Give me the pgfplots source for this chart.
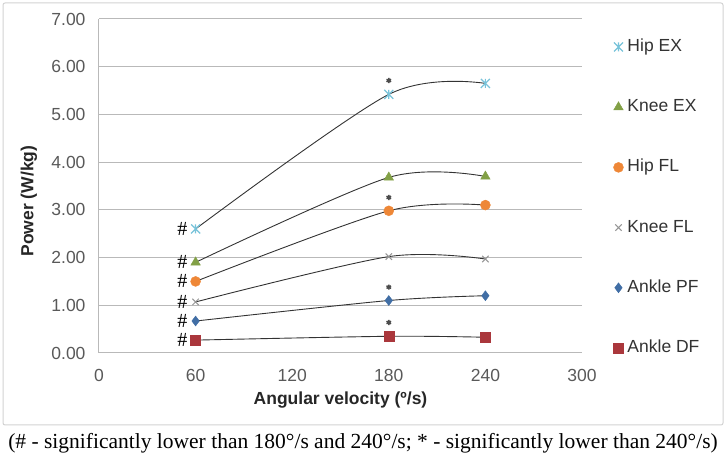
\documentclass[border=0pt]{standalone}
\usepackage{fontspec}
\setmainfont{Liberation Sans}
\newfontfamily\timesfont{Liberation Serif}
\usepackage{pgfplots}
\pgfplotsset{compat=1.18}

\definecolor{hipex}{RGB}{120,195,218}
\definecolor{kneeex}{RGB}{130,160,70}
\definecolor{hipfl}{RGB}{238,135,55}
\definecolor{kneefl}{RGB}{150,150,150}
\definecolor{anklepf}{RGB}{65,110,165}
\definecolor{ankledf}{RGB}{170,55,60}
\definecolor{gridgray}{RGB}{185,185,185}
\definecolor{ticktext}{RGB}{89,89,89}
\definecolor{framegray}{RGB}{210,210,210}

% Excel style star: an x with a vertical bar
\pgfdeclareplotmark{xbar}{%
  \pgfpathmoveto{\pgfqpoint{-\pgfplotmarksize}{-\pgfplotmarksize}}%
  \pgfpathlineto{\pgfqpoint{\pgfplotmarksize}{\pgfplotmarksize}}%
  \pgfpathmoveto{\pgfqpoint{-\pgfplotmarksize}{\pgfplotmarksize}}%
  \pgfpathlineto{\pgfqpoint{\pgfplotmarksize}{-\pgfplotmarksize}}%
  \pgfpathmoveto{\pgfqpoint{0pt}{-\pgfplotmarksize}}%
  \pgfpathlineto{\pgfqpoint{0pt}{\pgfplotmarksize}}%
  \pgfusepathqstroke}

\newcommand{\chartfont}{\fontsize{17.5}{20}\selectfont}
\newcommand{\hashfont}{\timesfont\fontsize{20}{20}\selectfont}

\begin{document}
\begin{tikzpicture}[x=1pt,y=1pt]
\useasboundingbox (0,0) rectangle (726,457);
\draw[framegray, line width=1pt, rounded corners=2pt] (3,32) rectangle (723,454);
\begin{axis}[
    at={(99pt,104pt)}, anchor=south west,
    width=483pt, height=334pt, scale only axis,
    xmin=0, xmax=300, ymin=0, ymax=7,
    xtick={0,60,120,180,240,300},
    ytick={0,1,2,3,4,5,6,7},
    major tick length=0pt,
    axis x line=bottom, axis y line=left,
    axis line style={-, draw=gridgray, line width=1pt},
    ymajorgrids,
    grid style={draw=gridgray, line width=1pt},
    /pgf/number format/assume math mode=true,
    tick label style={font=\chartfont, text=ticktext},
    yticklabel style={/pgf/number format/fixed, /pgf/number format/fixed zerofill,
        /pgf/number format/precision=2, anchor=east, xshift=-10pt},
    xticklabel style={anchor=base, yshift=-28.5pt},
    xlabel={\textbf{Angular velocity (º/s)}},
    ylabel={\textbf{Power (W/kg)}},
    xlabel style={at={(axis description cs:0.5,-0.1407)}, anchor=center, font=\chartfont, text=black!85},
    ylabel style={at={(axis description cs:-0.145,0.455)}, anchor=center, font=\chartfont, text=black!85},
    legend style={at={(axis description cs:1.0652,0.9403)}, anchor=north west,
        draw=none, fill=none, inner sep=0pt, outer sep=0pt,
        font=\chartfont, text=black!80, row sep=44.1pt,
        nodes={inner sep=0pt, text height=12.5pt, text depth=3.6pt}},
    legend cell align=left,
    legend image code/.code={\draw[#1] plot coordinates {(0pt,0pt)};
        \path[draw=none, fill=none] (0pt,0pt) -- (9pt,0pt);},
    clip=false,
]
% measured points
\addplot[only marks, mark=xbar, mark size=4.5pt, draw=hipex, line width=1.2pt]
    coordinates {(60,2.60) (180,5.42) (240,5.65)};
\addlegendentry{Hip EX}
\addplot[only marks, mark=triangle*, mark size=5.5pt, draw=kneeex, fill=kneeex]
    coordinates {(60,1.90) (180,3.68) (240,3.70)};
\addlegendentry{Knee EX}
\addplot[only marks, mark=*, mark size=5pt, draw=hipfl, fill=hipfl]
    coordinates {(60,1.50) (180,2.98) (240,3.10)};
\addlegendentry{Hip FL}
\addplot[only marks, mark=x, mark size=4.5pt, draw=kneefl, line width=1pt]
    coordinates {(60,1.07) (180,2.02) (240,1.97)};
\addlegendentry{Knee FL}
\addplot[only marks, mark=diamond*, mark size=5pt, draw=anklepf, fill=anklepf]
    coordinates {(60,0.67) (180,1.10) (240,1.20)};
\addlegendentry{Ankle PF}
\addplot[only marks, mark=square*, mark size=5pt, draw=ankledf, fill=ankledf]
    coordinates {(60,0.27) (180,0.35) (240,0.33)};
\addlegendentry{Ankle DF}

% trend lines
\pgfplotsset{trend/.style={forget plot, smooth, no marks, draw=black!80, line width=0.9pt}}
\addplot[trend] coordinates {(60,2.60) (180,5.42) (240,5.65)};
\addplot[trend] coordinates {(60,1.90) (180,3.68) (240,3.70)};
\addplot[trend] coordinates {(60,1.50) (180,2.98) (240,3.10)};
\addplot[trend] coordinates {(60,1.07) (180,2.02) (240,1.97)};
\addplot[trend] coordinates {(60,0.67) (180,1.10) (240,1.20)};
\addplot[trend] coordinates {(60,0.27) (180,0.35) (240,0.33)};

% * markers (significantly lower than 240)
\addplot[forget plot, only marks, mark=asterisk, mark size=2.6pt, draw=black!70, line width=1.5pt]
    coordinates {(180,5.71) (180,3.26) (180,1.38) (180,0.64)};

% # markers
\node[anchor=east, inner sep=0pt, font=\hashfont, xshift=-8pt] at (axis cs:60,2.60) {\#};
\node[anchor=east, inner sep=0pt, font=\hashfont, xshift=-8pt] at (axis cs:60,1.90) {\#};
\node[anchor=east, inner sep=0pt, font=\hashfont, xshift=-8pt] at (axis cs:60,1.50) {\#};
\node[anchor=east, inner sep=0pt, font=\hashfont, xshift=-8pt] at (axis cs:60,1.07) {\#};
\node[anchor=east, inner sep=0pt, font=\hashfont, xshift=-8pt] at (axis cs:60,0.67) {\#};
\node[anchor=east, inner sep=0pt, font=\hashfont, xshift=-8pt] at (axis cs:60,0.27) {\#};
\end{axis}
\node[font=\timesfont\fontsize{21.5}{24}\selectfont] at (363,14)
  {(\# - significantly lower than 180°/s and 240°/s; * - significantly lower than 240°/s)};
\end{tikzpicture}
\end{document}
